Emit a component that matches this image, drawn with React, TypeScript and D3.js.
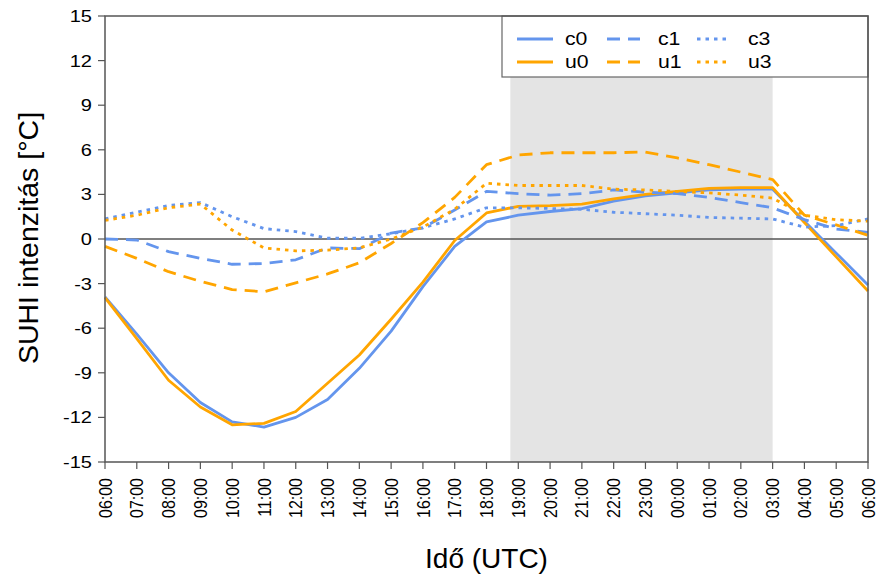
import React from "react";
import * as d3 from "d3";

const hours = ["06:00","07:00","08:00","09:00","10:00","11:00","12:00","13:00","14:00","15:00","16:00","17:00","18:00","19:00","20:00","21:00","22:00","23:00","00:00","01:00","02:00","03:00","04:00","05:00","06:00"];

const c0 = [-3.9,-6.4,-9.0,-11.0,-12.3,-12.65,-12.0,-10.8,-8.7,-6.2,-3.2,-0.5,1.15,1.6,1.85,2.05,2.55,2.9,3.1,3.3,3.35,3.35,1.2,-0.95,-3.1];
const u0 = [-3.95,-6.7,-9.5,-11.3,-12.5,-12.4,-11.6,-9.7,-7.8,-5.4,-2.9,-0.1,1.75,2.2,2.25,2.35,2.7,3.0,3.2,3.4,3.45,3.45,1.1,-1.2,-3.5];
const c1 = [0.0,-0.07,-0.85,-1.3,-1.7,-1.65,-1.4,-0.6,-0.65,0.4,0.75,1.95,3.2,3.05,2.95,3.05,3.3,3.15,3.05,2.8,2.45,2.1,1.3,0.67,0.45];
const u1 = [-0.5,-1.3,-2.2,-2.85,-3.4,-3.55,-2.95,-2.35,-1.6,-0.3,1.1,2.8,5.0,5.65,5.8,5.8,5.8,5.85,5.45,5.0,4.5,4.0,1.6,0.95,0.25];
const c3 = [1.35,1.8,2.25,2.45,1.5,0.7,0.5,0.05,0.05,0.35,0.75,1.35,2.1,2.1,2.05,2.0,1.8,1.7,1.6,1.45,1.4,1.35,0.8,0.9,1.35];
const u3 = [1.25,1.6,2.1,2.35,0.6,-0.6,-0.8,-0.75,-0.6,0.0,0.8,2.0,3.75,3.6,3.6,3.6,3.35,3.3,3.2,3.1,2.95,2.75,1.6,1.3,1.2];

const yTicks = [-15,-12,-9,-6,-3,0,3,6,9,12,15];
const shadeFrom = 12.75;
const shadeTo = 21;

const BLUE = "#6495ED";
const ORANGE = "#FFA500";

const series = [
  { name: "c0", values: c0, color: BLUE, dash: "none" },
  { name: "u0", values: u0, color: ORANGE, dash: "none" },
  { name: "c1", values: c1, color: BLUE, dash: "13,8" },
  { name: "u1", values: u1, color: ORANGE, dash: "13,8" },
  { name: "c3", values: c3, color: BLUE, dash: "3.5,5" },
  { name: "u3", values: u3, color: ORANGE, dash: "3.5,5" },
];

const FONT = "'Liberation Sans', Arial, sans-serif";
const SX = 1.18;

export default function App() {
  const W = 880, H = 578;
  const L = 105, R = 868, T = 16, B = 462;
  const x = d3.scaleLinear().domain([0, 24]).range([L, R]);
  const y = d3.scaleLinear().domain([-15, 15]).range([B, T]);
  const line = d3.line<number>().x((_, i) => x(i)).y((d) => y(d));
  const axisColor = "#555";

  const legendRows = [
    [series[0], series[2], series[4]],
    [series[1], series[3], series[5]],
  ];
  const legCols = [
    { x1: 517, x2: 553, tx: 565 },
    { x1: 607, x2: 640, tx: 658 },
    { x1: 697, x2: 730, tx: 748 },
  ];
  const legRowY = [39, 62];

  return (
    <svg width={W} height={H} style={{ position: "absolute", left: 0, top: 0, background: "#fff" }} fontFamily={FONT}>
      <rect x={0} y={0} width={W} height={H} fill="#fff" />
      <rect x={x(shadeFrom)} y={T} width={x(shadeTo) - x(shadeFrom)} height={B - T} fill="#E4E4E4" />
      <line x1={L} x2={R} y1={y(0)} y2={y(0)} stroke="#555" strokeWidth={1.6} />
      {series.map((s) => (
        <path key={s.name} d={line(s.values) || ""} fill="none" stroke={s.color} strokeWidth={2.8}
          strokeDasharray={s.dash} strokeLinejoin="round" />
      ))}
      {/* legend */}
      <rect x={502} y={T} width={R - 502} height={61} fill="#fff" stroke="#666" strokeWidth={1.2} />
      {legendRows.map((row, ri) =>
        row.map((s, ci) => (
          <g key={s.name}>
            <line x1={legCols[ci].x1} x2={legCols[ci].x2} y1={legRowY[ri]} y2={legRowY[ri]}
              stroke={s.color} strokeWidth={2.8} strokeDasharray={s.dash} />
            <text transform={`translate(${legCols[ci].tx},${legRowY[ri]}) scale(${SX},1)`} dy="0.35em" fontSize={18} fill="#000">{s.name}</text>
          </g>
        ))
      )}
      {/* box */}
      <rect x={L} y={T} width={R - L} height={B - T} fill="none" stroke={axisColor} strokeWidth={1.5} />
      {/* y axis */}
      {yTicks.map((t) => (
        <g key={t}>
          <line x1={L - 7} x2={L} y1={y(t)} y2={y(t)} stroke={axisColor} strokeWidth={1.2} />
          <text transform={`translate(${L - 13},${y(t)}) scale(${SX},1)`} dy="0.35em" textAnchor="end" fontSize={17} fill="#000">{t}</text>
        </g>
      ))}
      {/* x axis */}
      {hours.map((h, i) => (
        <g key={i}>
          <line x1={x(i)} x2={x(i)} y1={B} y2={B + 7} stroke={axisColor} strokeWidth={1.2} />
          <text transform={`translate(${x(i)},${B + 16}) scale(${SX},1) rotate(-90)`} dy="0.35em" textAnchor="end" fontSize={16} fill="#000">{h}</text>
        </g>
      ))}
      <text transform={`translate(28,${(T + B) / 2 - 1}) rotate(-90)`} textAnchor="middle" dy="0.35em" fontSize={28.5} fill="#000">SUHI intenzitás [°C]</text>
      <text x={(L + R) / 2} y={568} textAnchor="middle" fontSize={28} fill="#000">Idő (UTC)</text>
    </svg>
  );
}
